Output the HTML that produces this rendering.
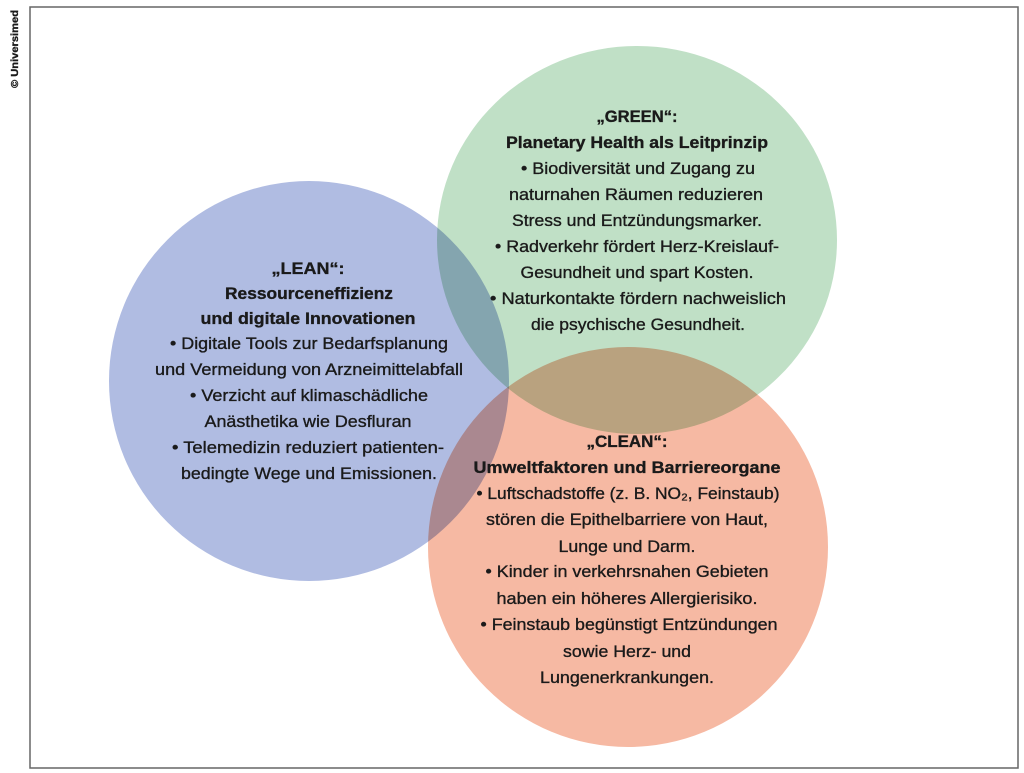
<!DOCTYPE html>
<html><head><meta charset="utf-8"><style>
html,body{margin:0;padding:0;background:#fff;width:1024px;height:773px;overflow:hidden}
svg{display:block}
text{font-family:"Liberation Sans Narrow","Liberation Sans",sans-serif;font-size:17px;fill:#1a1a1a;text-anchor:middle;stroke:#1a1a1a;stroke-width:0.35}
.b{font-weight:bold}
</style></head><body>
<svg width="1024" height="773" viewBox="0 0 1024 773">
<rect x="30" y="7" width="988" height="761" fill="#fff" stroke="#666" stroke-width="1.5"/>
<text x="0" y="0" transform="translate(18,49) rotate(-90)" style="font-size:10.5px;font-weight:bold;font-family:'Liberation Sans',sans-serif" textLength="78" lengthAdjust="spacingAndGlyphs">© Universimed</text>
<g style="isolation:isolate">
<circle cx="309" cy="381" r="200" fill="#b0bce2" style="mix-blend-mode:multiply"/>
<ellipse cx="637" cy="240" rx="200" ry="194" fill="#c0e0c6" style="mix-blend-mode:multiply"/>
<circle cx="628" cy="547" r="200" fill="#f6b9a3" style="mix-blend-mode:multiply"/>
</g>
<g>
<text class="b" x="308" y="274" textLength="73" lengthAdjust="spacingAndGlyphs">„LEAN“:</text>
<text class="b" x="309" y="299" textLength="168" lengthAdjust="spacingAndGlyphs">Ressourceneffizienz</text>
<text class="b" x="308" y="324" textLength="215" lengthAdjust="spacingAndGlyphs">und digitale Innovationen</text>
<text x="309" y="349" textLength="278" lengthAdjust="spacingAndGlyphs">• Digitale Tools zur Bedarfsplanung</text>
<text x="309" y="375" textLength="308" lengthAdjust="spacingAndGlyphs">und Vermeidung von Arzneimittelabfall</text>
<text x="309" y="401" textLength="238" lengthAdjust="spacingAndGlyphs">• Verzicht auf klimaschädliche</text>
<text x="308" y="427" textLength="207" lengthAdjust="spacingAndGlyphs">Anästhetika wie Desfluran</text>
<text x="308" y="453" textLength="272" lengthAdjust="spacingAndGlyphs">• Telemedizin reduziert patienten-</text>
<text x="309" y="479" textLength="256" lengthAdjust="spacingAndGlyphs">bedingte Wege und Emissionen.</text>
</g>
<g>
<text class="b" x="637" y="122" textLength="81" lengthAdjust="spacingAndGlyphs">„GREEN“:</text>
<text class="b" x="637" y="148" textLength="262" lengthAdjust="spacingAndGlyphs">Planetary Health als Leitprinzip</text>
<text x="638" y="174" textLength="234" lengthAdjust="spacingAndGlyphs">• Biodiversität und Zugang zu</text>
<text x="636" y="200" textLength="254" lengthAdjust="spacingAndGlyphs">naturnahen Räumen reduzieren</text>
<text x="637" y="226" textLength="250" lengthAdjust="spacingAndGlyphs">Stress und Entzündungsmarker.</text>
<text x="637" y="252" textLength="284" lengthAdjust="spacingAndGlyphs">• Radverkehr fördert Herz-Kreislauf-</text>
<text x="637" y="278" textLength="233" lengthAdjust="spacingAndGlyphs">Gesundheit und spart Kosten.</text>
<text x="638" y="304" textLength="296" lengthAdjust="spacingAndGlyphs">• Naturkontakte fördern nachweislich</text>
<text x="638" y="330" textLength="214" lengthAdjust="spacingAndGlyphs">die psychische Gesundheit.</text>
</g>
<g>
<text class="b" x="627" y="447" textLength="81" lengthAdjust="spacingAndGlyphs">„CLEAN“:</text>
<text class="b" x="627" y="473" textLength="307" lengthAdjust="spacingAndGlyphs">Umweltfaktoren und Barriereorgane</text>
<text x="628" y="499" textLength="303" lengthAdjust="spacingAndGlyphs">• Luftschadstoffe (z. B. NO₂, Feinstaub)</text>
<text x="627" y="525" textLength="282" lengthAdjust="spacingAndGlyphs">stören die Epithelbarriere von Haut,</text>
<text x="627" y="552" textLength="137" lengthAdjust="spacingAndGlyphs">Lunge und Darm.</text>
<text x="627" y="577" textLength="283" lengthAdjust="spacingAndGlyphs">• Kinder in verkehrsnahen Gebieten</text>
<text x="627" y="604" textLength="261" lengthAdjust="spacingAndGlyphs">haben ein höheres Allergierisiko.</text>
<text x="629" y="630" textLength="297" lengthAdjust="spacingAndGlyphs">• Feinstaub begünstigt Entzündungen</text>
<text x="627" y="657" textLength="128" lengthAdjust="spacingAndGlyphs">sowie Herz- und</text>
<text x="627" y="683" textLength="174" lengthAdjust="spacingAndGlyphs">Lungenerkrankungen.</text>
</g>
</svg>
</body></html>
